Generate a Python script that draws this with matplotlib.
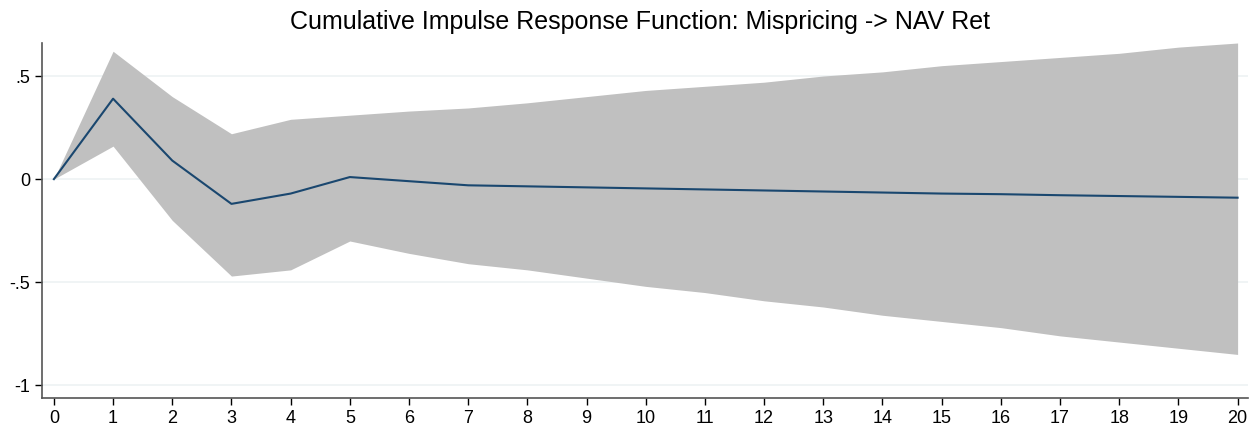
import numpy as np
import matplotlib.pyplot as plt

# horizon steps
step = np.arange(0, 21)

# cumulative IRF and confidence bounds
irf = [0, 0.39, 0.09, -0.12, -0.07, 0.01, -0.01, -0.03, -0.035, -0.04, -0.045,
       -0.05, -0.055, -0.06, -0.065, -0.07, -0.073, -0.078, -0.082, -0.086, -0.09]
upper = [0, 0.62, 0.40, 0.22, 0.29, 0.31, 0.33, 0.345, 0.37, 0.40, 0.43,
         0.45, 0.47, 0.50, 0.52, 0.55, 0.57, 0.59, 0.61, 0.64, 0.66]
lower = [0, 0.16, -0.20, -0.47, -0.44, -0.30, -0.36, -0.41, -0.44, -0.48, -0.52,
         -0.55, -0.59, -0.62, -0.66, -0.69, -0.72, -0.76, -0.79, -0.82, -0.85]

yticks = [-1, -0.5, 0, 0.5]
ylabels = ['-1', '-.5', '0', '.5']

plt.rcParams['font.family'] = ['Liberation Sans', 'DejaVu Sans']

fig = plt.figure(figsize=(12.59, 4.30), dpi=100)
ax = fig.add_axes([0.0334, 0.075, 0.9576, 0.825])

for y in yticks:
    ax.axhline(y, color='#eef2f3', lw=1.2, zorder=0)

ax.fill_between(step, lower, upper, color='#c0c0c0', lw=0, zorder=1)
ax.plot(step, irf, color='#1a476f', lw=1.5, zorder=2)

ax.set_xlim(-0.2, 20.17)
ax.set_ylim(-1.06, 0.66)
ax.set_xticks(step)
ax.set_yticks(yticks)
ax.set_yticklabels(ylabels)
ax.tick_params(labelsize=13, colors='black', length=5, width=1)
for s in ['top', 'right']:
    ax.spines[s].set_visible(False)
for s in ['left', 'bottom']:
    ax.spines[s].set_color('#555555')
    ax.spines[s].set_linewidth(1.2)

fig.text(0.508, 0.95, 'Cumulative Impulse Response Function: Mispricing -> NAV Ret',
         ha='center', va='center', fontsize=18)

fig.savefig('out.png')
